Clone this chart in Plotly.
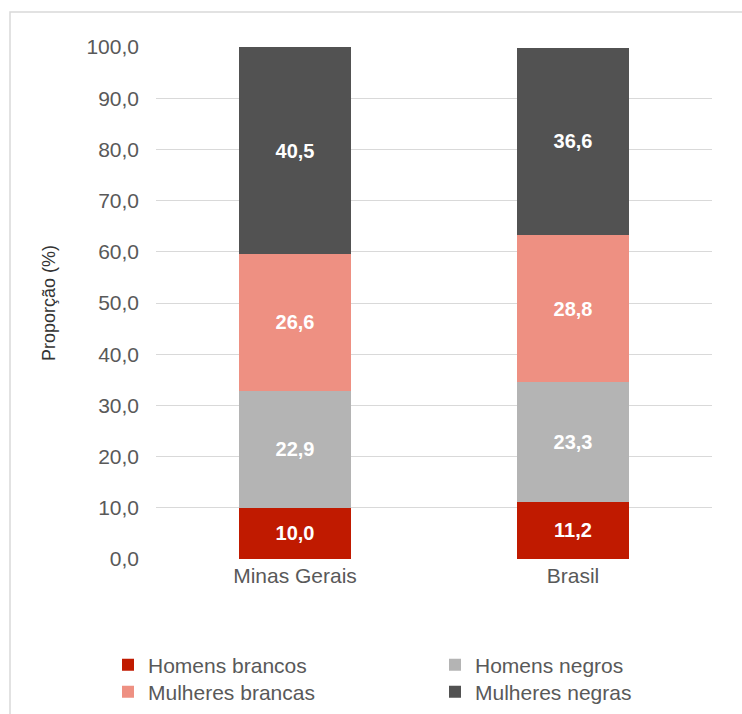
import plotly.graph_objects as go

# Distribution by sex and race (%)
regions = ["Minas Gerais", "Brasil"]
series_names = ["Homens brancos", "Homens negros", "Mulheres brancas", "Mulheres negras"]
homens_brancos = [10.0, 11.2]
homens_negros = [22.9, 23.3]
mulheres_brancas = [26.6, 28.8]
mulheres_negras = [40.5, 36.6]
y_ticks = [0, 10, 20, 30, 40, 50, 60, 70, 80, 90, 100]

series_values = [homens_brancos, homens_negros, mulheres_brancas, mulheres_negras]
colors = ["#C01A00", "#B4B4B4", "#EE9082", "#525252"]

FONT = "Liberation Sans, Arial, sans-serif"
W, H = 742, 714
L, R, T, B = 156, 30, 47, 155
pw, ph = W - L - R, H - T - B

# one legend box per entry, laid out as a 2x2 grid (pixel anchors)
legend_ids = ["legend", "legend2", "legend3", "legend4"]
legend_px = [(108, 665), (435, 665), (108, 692), (435, 692)]

fig = go.Figure()
for name, vals, col, lg in zip(series_names, series_values, colors, legend_ids):
    fig.add_trace(go.Bar(
        x=regions, y=vals, name=name, legend=lg,
        marker=dict(color=col, line=dict(width=0)),
        texttemplate="%{y:.1f}",
        textposition="inside",
        insidetextanchor="middle",
        textangle=0,
        constraintext="none",
        textfont=dict(family=FONT, size=20, color="white", weight="bold"),
        hoverinfo="skip",
    ))

# outer frame of the chart area
fig.add_shape(type="rect", xref="paper", yref="paper",
              x0=(10 - L) / pw, x1=(760 - L) / pw,
              y0=-(740 - T - ph) / ph, y1=1 + (T - 12) / ph,
              line=dict(color="#D9D9D9", width=1.5), fillcolor="rgba(0,0,0,0)", layer="below")

legend_layout = {}
for lg, (px, py) in zip(legend_ids, legend_px):
    legend_layout[lg] = dict(
        x=(px - L) / pw, xanchor="left",
        y=-(py - T - ph) / ph, yanchor="middle",
        itemwidth=30,
        font=dict(size=21, color="#595959"),
        bgcolor="rgba(0,0,0,0)",
    )

fig.update_layout(
    width=W, height=H,
    margin=dict(l=L, r=R, t=T, b=B, autoexpand=False),
    barmode="stack",
    bargap=0.6,
    separators=",.",
    paper_bgcolor="white",
    plot_bgcolor="white",
    font=dict(family=FONT, size=20, color="#595959"),
    xaxis=dict(showgrid=False, showline=False, ticks="", ticklabelstandoff=2,
               tickfont=dict(size=21, color="#595959")),
    yaxis=dict(
        range=[0, 100], tickvals=y_ticks, tickformat=".1f",
        showgrid=True, gridcolor="#D9D9D9", gridwidth=1,
        zeroline=False, showline=False, ticks="", ticklabelstandoff=16,
        tickfont=dict(size=21, color="#595959"),
        title=dict(text="Proporção (%)", font=dict(size=18, color="#333333"), standoff=26),
    ),
    showlegend=True,
    **legend_layout,
)

fig.write_html("out.html")
